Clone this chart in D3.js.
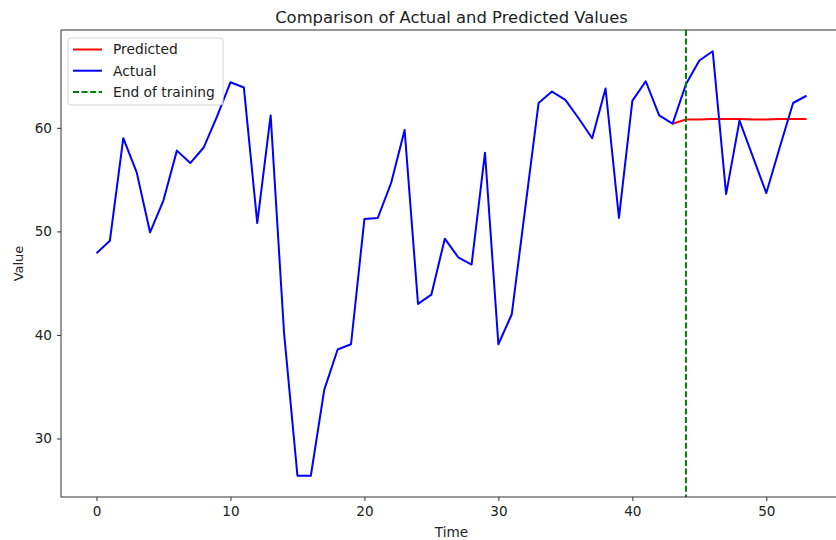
<!DOCTYPE html>
<html>
<head>
<meta charset="utf-8">
<script src="https://cdn.jsdelivr.net/npm/d3@7"></script>
<style>
  body { margin: 0; background: #fff; }
  svg { display: block; font-family: "DejaVu Sans", sans-serif; }
</style>
</head>
<body>
<svg id="chart" width="836" height="540"></svg>
<script>
const actual = [47.9, 49.1, 59.0, 55.7, 49.9, 53.0, 57.8, 56.6, 58.1, 61.1,
  64.4, 63.9, 50.8, 61.2, 40.2, 26.4, 26.4, 34.7, 38.6, 39.1,
  51.2, 51.3, 54.7, 59.8, 43.0, 43.9, 49.3, 47.5, 46.8, 57.6,
  39.1, 42.0, 52.2, 62.4, 63.5, 62.7, 60.9, 59.0, 63.8, 51.3,
  62.6, 64.5, 61.2, 60.4, 64.2, 66.5, 67.4, 53.6, 60.7, 57.2,
  53.7, 58.1, 62.4, 63.1];
const predictedStart = 43;
const predicted = [60.4, 60.8, 60.8, 60.85, 60.85, 60.85, 60.8, 60.8, 60.85, 60.85, 60.85];
const trainEnd = 44;
const xTicks = [0, 10, 20, 30, 40, 50];
const yTicks = [30, 40, 50, 60];
const legendItems = [
  { label: "Predicted", color: "red", dash: null },
  { label: "Actual", color: "blue", dash: null },
  { label: "End of training", color: "green", dash: "6,2.6" }
];

const svg = d3.select("#chart");
const margin = { left: 61, top: 30, right: 842, bottom: 497 };
const fs = 13.6;

// matplotlib style 5% margins
const xMin = 0, xMax = actual.length - 1;
const xPad = (xMax - xMin) * 0.05;
const yLo = d3.min(actual.concat(predicted)), yHi = d3.max(actual.concat(predicted));
const yPad = (yHi - yLo) * 0.05;

const x = d3.scaleLinear().domain([xMin - xPad, xMax + xPad]).range([margin.left, margin.right]);
const y = d3.scaleLinear().domain([yLo - yPad, yHi + yPad]).range([margin.bottom, margin.top]);

svg.append("defs").append("clipPath").attr("id", "clip")
  .append("rect")
  .attr("x", margin.left).attr("y", margin.top)
  .attr("width", margin.right - margin.left).attr("height", margin.bottom - margin.top);

const line = d3.line().x(d => x(d[0])).y(d => y(d[1]));

const plot = svg.append("g").attr("clip-path", "url(#clip)");

plot.append("path")
  .datum(predicted.map((v, i) => [predictedStart + i, v]))
  .attr("d", line)
  .attr("fill", "none")
  .attr("stroke", "red")
  .attr("stroke-width", 2);

plot.append("path")
  .datum(actual.map((v, i) => [i, v]))
  .attr("d", line)
  .attr("fill", "none")
  .attr("stroke", "blue")
  .attr("stroke-width", 2)
  .attr("stroke-linejoin", "round");

plot.append("line")
  .attr("x1", x(trainEnd)).attr("x2", x(trainEnd))
  .attr("y1", margin.top).attr("y2", margin.bottom)
  .attr("stroke", "green")
  .attr("stroke-width", 2)
  .attr("stroke-dasharray", "6,2.6");

// axes
const xAxis = svg.append("g")
  .attr("transform", `translate(0,${margin.bottom})`)
  .call(d3.axisBottom(x).tickValues(xTicks).tickSize(4).tickPadding(5).tickFormat(d3.format("d")));
const yAxis = svg.append("g")
  .attr("transform", `translate(${margin.left},0)`)
  .call(d3.axisLeft(y).tickValues(yTicks).tickSize(4).tickPadding(5).tickFormat(d3.format("d")));

[xAxis, yAxis].forEach(a => {
  a.select(".domain").remove();
  a.selectAll(".tick line").attr("stroke", "#333").attr("stroke-width", 1);
  a.selectAll(".tick text").attr("fill", "#222").attr("font-size", fs).attr("font-family", "DejaVu Sans");
});

// frame
svg.append("rect")
  .attr("x", margin.left).attr("y", margin.top)
  .attr("width", margin.right - margin.left).attr("height", margin.bottom - margin.top)
  .attr("fill", "none").attr("stroke", "#333").attr("stroke-width", 1);

// titles
svg.append("text")
  .attr("x", (margin.left + margin.right) / 2).attr("y", 23)
  .attr("text-anchor", "middle").attr("font-size", 16.4).attr("fill", "#222")
  .text("Comparison of Actual and Predicted Values");

svg.append("text")
  .attr("x", (margin.left + margin.right) / 2).attr("y", 537)
  .attr("text-anchor", "middle").attr("font-size", fs).attr("fill", "#222")
  .text("Time");

svg.append("text")
  .attr("transform", `translate(23,${(margin.top + margin.bottom) / 2}) rotate(-90)`)
  .attr("text-anchor", "middle").attr("font-size", 13).attr("fill", "#222")
  .text("Value");

// legend
const legend = svg.append("g").attr("transform", "translate(68,38)");
legend.append("rect")
  .attr("width", 155).attr("height", 67).attr("rx", 3)
  .attr("fill", "white").attr("fill-opacity", 0.8)
  .attr("stroke", "#d5d5d5").attr("stroke-width", 1);

const item = legend.selectAll("g.item").data(legendItems).join("g")
  .attr("class", "item")
  .attr("transform", (d, i) => `translate(0,${11.5 + i * 21.2})`);
item.append("line")
  .attr("x1", 5).attr("x2", 34)
  .attr("stroke", d => d.color).attr("stroke-width", 2)
  .attr("stroke-dasharray", d => d.dash);
item.append("text")
  .attr("x", 45).attr("dy", "0.35em")
  .attr("font-size", 13.8).attr("fill", "#222")
  .text(d => d.label);
</script>
</body>
</html>
